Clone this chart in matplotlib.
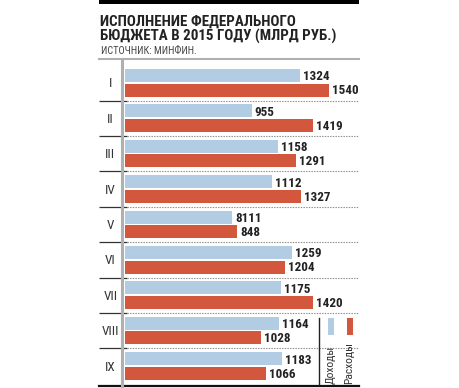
import os
import matplotlib
matplotlib.use("Agg")
import matplotlib.pyplot as plt
from matplotlib.patches import Rectangle
from matplotlib import font_manager as fm
from matplotlib.ft2font import FT2Font
from matplotlib.textpath import TextPath

categories = ["I", "II", "III", "IV", "V", "VI", "VII", "VIII", "IX"]
income = [1324, 955, 1158, 1112, 811, 1259, 1175, 1164, 1183]
income_labels = ["1324", "955", "1158", "1112", "8111", "1259", "1175", "1164", "1183"]
expense = [1540, 1419, 1291, 1327, 848, 1204, 1420, 1028, 1066]
expense_labels = ["1540", "1419", "1291", "1327", "848", "1204", "1420", "1028", "1066"]
title_lines = ["ИСПОЛНЕНИЕ ФЕДЕРАЛЬНОГО", "БЮДЖЕТА В 2015 ГОДУ (МЛРД РУБ.)"]
source = "ИСТОЧНИК: МИНФИН."
legend_names = ["Доходы", "Расходы"]


# ---- pick a condensed font with Cyrillic coverage ----
def _w(f):
    try:
        return int(f.weight)
    except Exception:
        return {"normal": 400, "regular": 400, "bold": 700}.get(str(f.weight), 400)


def _has_cyr(path):
    try:
        cm = FT2Font(path).get_charmap()
        return all(ord(c) in cm for c in "ЖБЮДФ")
    except Exception:
        return False


def pick_fonts():
    cands = ["Roboto Condensed", "PT Sans Narrow", "Fira Sans Condensed",
             "IBM Plex Sans Condensed", "Open Sans Condensed", "Archivo Narrow",
             "Liberation Sans Narrow"]
    for name in cands:
        fs = [f for f in fm.fontManager.ttflist
              if f.name == name and f.style == "normal" and "[" not in os.path.basename(f.fname)]
        reg = [f for f in fs if _w(f) == 400]
        bold = [f for f in fs if _w(f) == 700]
        if reg and bold and _has_cyr(reg[0].fname) and _has_cyr(bold[0].fname):
            return reg[0].fname, bold[0].fname
    fs = [f for f in fm.fontManager.ttflist
          if f.name == "DejaVu Sans" and f.stretch == "condensed" and f.style == "normal"]
    reg = [f for f in fs if _w(f) == 400]
    bold = [f for f in fs if _w(f) == 700]
    if reg and bold:
        return reg[0].fname, bold[0].fname
    return (fm.findfont(fm.FontProperties(family="DejaVu Sans")),
            fm.findfont(fm.FontProperties(family="DejaVu Sans", weight="bold")))


REG_PATH, BOLD_PATH = pick_fonts()


def FP(bold=False, size=10):
    return fm.FontProperties(fname=BOLD_PATH if bold else REG_PATH, size=size)


def cap_size(text, bold, target_px):
    """font size (pt) whose ink height of `text` is target_px at 100 dpi"""
    ext = TextPath((0, 0), text, size=10, prop=FP(bold, 10)).get_extents()
    h_px = ext.height * 100 / 72
    return 10 * target_px / h_px


BLUE = "#b2cce3"
RED = "#d3573c"

W, H = 460, 388
fig = plt.figure(figsize=(W / 100, H / 100), dpi=100)
renderer = fig.canvas.get_renderer()


def fx(px):
    return px / W


def fy(py):
    return 1 - py / H


def fit_len(text, bold, target_px, rotation=0):
    t = fig.text(0, 0, text, fontproperties=FP(bold, 10), rotation=rotation)
    bb = t.get_window_extent(renderer)
    t.remove()
    length = bb.height if rotation else bb.width
    return 10 * target_px / length


# top black band
fig.add_artist(Rectangle((fx(99), fy(4)), fx(359) - fx(99), 4 / H,
                         transform=fig.transFigure, color="black", lw=0))
ts = min(cap_size("ИСПОЛНЕНИЕ", True, 12.5), fit_len(title_lines[1], True, 236))
fig.text(fx(100.5), fy(25.5), title_lines[0], fontproperties=FP(True, ts),
         color="#222222", va="baseline")
fig.text(fx(100.5), fy(40.5), title_lines[1], fontproperties=FP(True, ts),
         color="#222222", va="baseline")
ss = min(cap_size("ИСТОЧНИК", False, 7.5), fit_len(source, False, 100))
fig.text(fx(101), fy(53.5), source, fontproperties=FP(False, ss), color="#444444",
         va="baseline")

# axes area
top_px, bot_px = 59, 386
left_px, right_px = 99, 359
ax = fig.add_axes([fx(left_px), fy(bot_px), (right_px - left_px) / W, (bot_px - top_px) / H])
scale = 0.1325  # px per unit
x0_px = 125
ax.set_xlim(-(x0_px - left_px) / scale, (right_px - x0_px) / scale)
row0, pitch = 82.8, 35.4
ax.set_ylim((bot_px - row0) / pitch, (top_px - row0) / pitch)
ax.axis("off")

n = len(categories)
ys = list(range(n))
bh = 13 / pitch
off = 7.3 / pitch
ax.barh([y - off for y in ys], income, height=bh, color=BLUE, lw=0)
ax.barh([y + off for y in ys], expense, height=bh, color=RED, lw=0)

vs = cap_size("1324", True, 9.6)
pad = 3 / scale
for y, v, lab in zip(ys, income, income_labels):
    ax.text(v + pad, y - off + 0.04, lab, fontproperties=FP(True, vs),
            va="center", ha="left", color="#222222")
for y, v, lab in zip(ys, expense, expense_labels):
    ax.text(v + pad, y + off + 0.02, lab, fontproperties=FP(True, vs),
            va="center", ha="left", color="#222222")

cs = cap_size("I", False, 9.4)
cat_x = -(x0_px - 110.3) / scale
for y, c in zip(ys, categories):
    ax.text(cat_x, y + 0.03, c, fontproperties=FP(False, cs), ha="center", va="center",
            color="#333333")

xl = ax.get_xlim()
sep_x = (127 - x0_px) / scale
for y in ys[:-1]:
    ax.plot([xl[0], sep_x], [y + 0.5, y + 0.5], color="#333333", lw=0.9,
            solid_capstyle="butt")
    ax.plot([sep_x, xl[1]], [y + 0.5, y + 0.5], color="#888888", lw=0.8,
            dashes=(1.2, 1.2))

yl = ax.get_ylim()
ax.plot([xl[0], xl[1]], [yl[1], yl[1]], color="#b0b0b0", lw=1.5, clip_on=False)
ax.plot([xl[0], xl[1]], [yl[0], yl[0]], color="#111111", lw=1.6, clip_on=False)
vx = (122 - x0_px) / scale
ax.plot([vx, vx], [yl[0], yl[1]], color="#b0b0b0", lw=2.2, clip_on=False)

# legend
lx = (319 - x0_px) / scale
ly_top = (318 - row0) / pitch
ax.plot([lx, lx], [yl[0], ly_top], color="#222222", lw=1.0)
ls = fit_len(legend_names[0], False, 38, rotation=90)
for i, (col, name) in enumerate(zip([BLUE, RED], legend_names)):
    px = 328 + i * 19
    ax.add_patch(Rectangle(((px - x0_px) / scale, ly_top), 6 / scale, 17 / pitch,
                           color=col, lw=0))
    ax.text((px + 2.5 - x0_px) / scale, (383.5 - row0) / pitch, name,
            fontproperties=FP(False, ls), rotation=90, ha="center", va="bottom",
            color="#333333")

fig.savefig("out.png", dpi=100)
